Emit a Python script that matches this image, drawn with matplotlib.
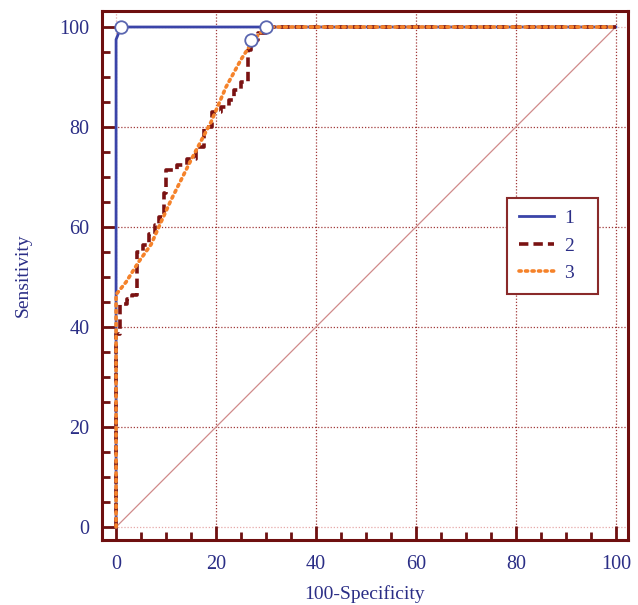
import matplotlib
matplotlib.use("Agg")
import matplotlib.pyplot as plt
from matplotlib.ticker import MultipleLocator

# ---- data ----
fpr1 = [0, 0, 1, 100]
tpr1 = [0, 97.5, 100, 100]

fpr2 = [0, 0, 0.8, 2.1, 3.1, 4.2, 5.3, 6.5, 7.8, 8.6, 9.5, 10.0, 12.2, 14.2,
        16.0, 17.6, 19.2, 21.0, 22.5, 23.5, 25.0, 26.5, 27.0, 28.5, 30.0, 100]
tpr2 = [0, 38.7, 44.7, 45.7, 46.4, 55.0, 56.4, 58.7, 60.4, 62.0, 66.8, 71.4, 72.4, 73.6,
        76.0, 80.0, 83.0, 84.0, 85.5, 87.5, 89.0, 95.4, 97.5, 98.8, 100, 100]

fpr3 = [0, 0, 2, 4.5, 7, 9, 11, 15, 19, 22, 25, 27.5, 30, 100]
tpr3 = [0, 46.5, 49, 53, 56.5, 61, 65.4, 73.4, 81, 88, 93.5, 97.4, 100, 100]

crit_x = [1, 27, 30]
crit_y = [100, 97.5, 100]

labels = ["1", "2", "3"]
xticks = [0, 20, 40, 60, 80, 100]
yticks = [0, 20, 40, 60, 80, 100]

# ---- style ----
navy = "#2b2e86"
darkred = "#6e0f0f"
blue = "#3a44a8"
dred = "#7a1212"
orange = "#f5822a"

plt.rcParams['font.family'] = ['Liberation Serif', 'DejaVu Serif']

fig = plt.figure(figsize=(6.38, 6.05), dpi=100)
ax = fig.add_axes([0.160, 0.1074, 0.824, 0.8744])

ax.set_xlim(-2.8, 102.4)
ax.set_ylim(-2.6, 103.2)

# grid
for v in [20, 40, 60, 80, 100]:
    ax.axvline(v, color="#a03838", lw=0.9, ls=(0, (1, 1.5)), zorder=1)
for v in [20, 40, 60, 80]:
    ax.axhline(v, color="#a03838", lw=0.9, ls=(0, (1, 1.5)), zorder=1)
ax.axhline(0, color="#e6a8a8", lw=0.9, ls=(0, (1, 1.5)), zorder=1)
ax.axhline(100, color="#e6a8a8", lw=0.9, ls=(0, (1, 1.5)), zorder=1)
ax.axvline(0, color="#e6a8a8", lw=0.9, ls=(0, (1, 1.5)), zorder=1)

# diagonal reference
ax.plot([0, 100], [0, 100], color="#d08a8a", lw=0.9, zorder=2)

l1, = ax.plot(fpr1, tpr1, color=blue, lw=2.0, zorder=4, label=labels[0])
l2, = ax.plot(fpr2, tpr2, color=dred, lw=2.6, ls=(0, (2.6, 1.4)),
              drawstyle="steps-post", zorder=5, label=labels[1])
l3, = ax.plot(fpr3, tpr3, color=orange, lw=2.6, ls=(0, (0.6, 1.2)),
              dash_capstyle="round", zorder=6, label=labels[2])

ax.plot(crit_x, crit_y, ls="none", marker="o", ms=9, mfc="white",
        mec="#5a66b0", mew=1.3, zorder=7)

# ticks
ax.xaxis.set_minor_locator(MultipleLocator(5))
ax.yaxis.set_minor_locator(MultipleLocator(5))
ax.set_xticks(xticks)
ax.set_yticks(yticks)
ax.tick_params(which="major", direction="in", length=10, width=2, color=darkred,
               labelsize=14.5, labelcolor=navy)
ax.tick_params(which="minor", direction="in", length=5.5, width=2, color=darkred)
ax.tick_params(axis="x", which="both", top=False)
ax.tick_params(axis="y", which="both", right=False)
ax.tick_params(axis="x", which="major", pad=11)
ax.tick_params(axis="y", which="major", pad=9)

for s in ax.spines.values():
    s.set_color(darkred)
    s.set_linewidth(2.2)

ax.set_xlabel("100-Specificity", fontsize=14, color=navy, labelpad=8)
ax.set_ylabel("Sensitivity", fontsize=14, color=navy, labelpad=20)

leg = ax.legend(handles=[l1, l2, l3], loc="upper left",
                bbox_to_anchor=(0.770, 0.4465, 0.173, 0.2), mode="expand",
                fontsize=14, frameon=True, fancybox=False, borderpad=0.6,
                handlelength=1.8, handletextpad=0.55, labelspacing=0.5,
                borderaxespad=0)
for t in leg.get_texts():
    t.set_color(navy)
leg.get_frame().set_edgecolor("#8a2a2a")
leg.get_frame().set_linewidth(1.5)
leg.get_frame().set_alpha(1)
leg.set_zorder(10)

fig.savefig("out.png", dpi=100, facecolor="white")
